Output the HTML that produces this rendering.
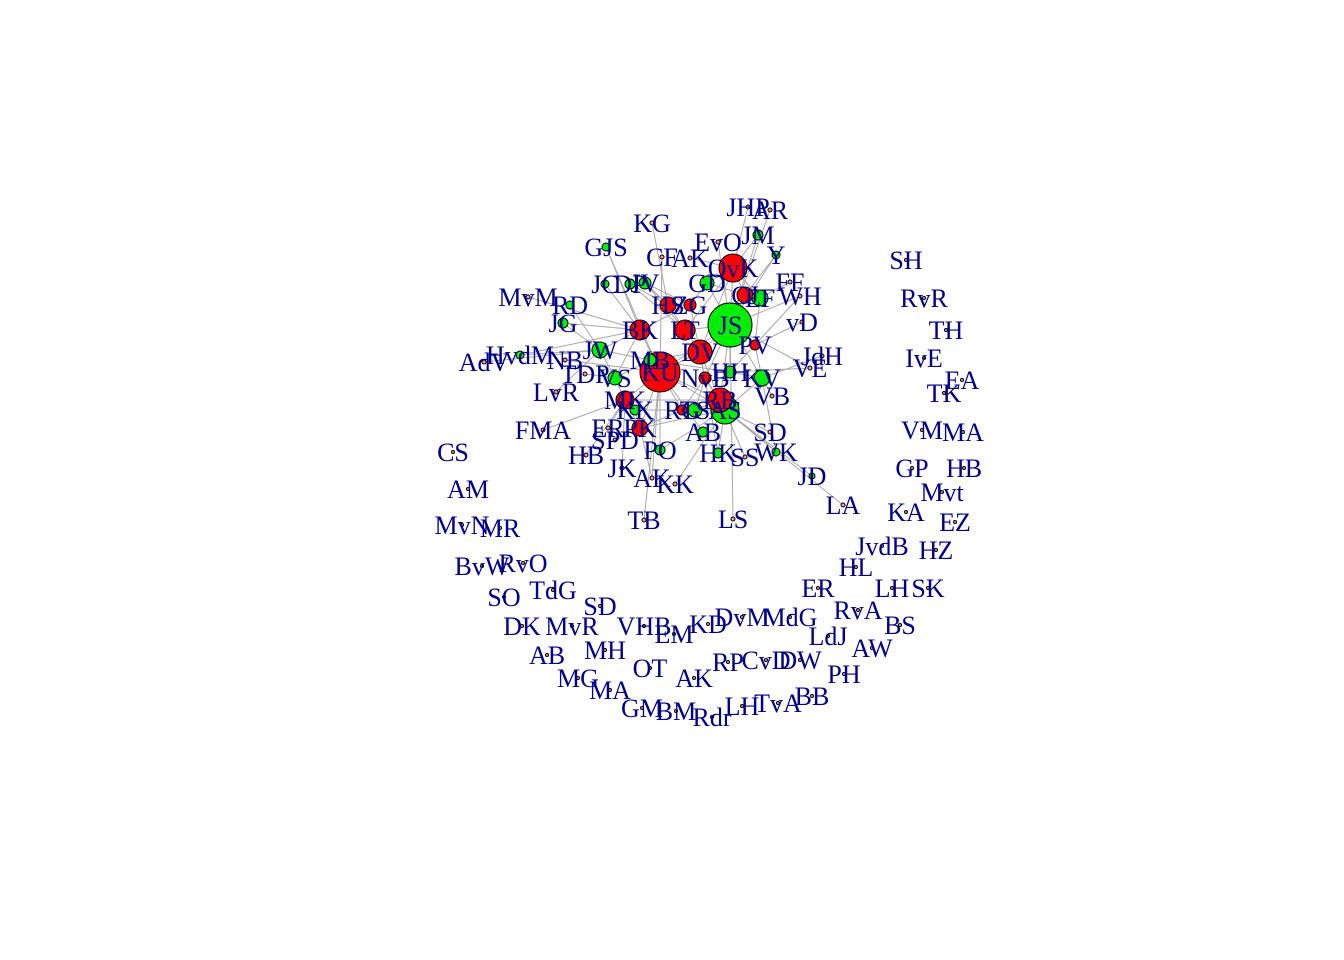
<!DOCTYPE html>
<html><head><meta charset="utf-8">
<style>
html,body{margin:0;padding:0;background:#fff;}
svg{display:block;}
text{font-family:"Liberation Serif",serif;font-size:26px;fill:#00008b;}
</style></head>
<body>
<svg id="chart" width="1344" height="960"></svg>
<script>
// layout coordinates (units relative to plot centre)
const nodeLabels=["KU","JS","OvK","AS","DV","RB","LT","BK","HS","MK","JW","VS","PK","CJ","EF","KV","GD","TS","MB","ZG","NvB","HH","PV","JV","RG","KK",
"GJS","CF","AK","EvO","JM","Y","FF","WH","vD","JdH","VE","VB","SD","WK","SS","HK","AB","KK","AK","JK","HB","PO","SPD","ER","LvR","TDP","NB","HvdM","JG","RD","JC","DP","KG","JHP","AR","MvM","AdV","FMA","TB","LS","JD","LA",
"SH","RvR","TH","IvE","EA","TK","VM","MA","GP","HB","Mvt","KA","EZ","JvdB","HZ","HL","LH","SK","ER","RvA","BS","LdJ","AW","PH","BB","TvA","LH","Rdr","CvD","DW","RP","AK","OT","BM","GM","MA","MG","MH","AB","EM","KD","DvM","MdG","VHB","MvR","DK","SD","TdG","SO","BvW","RvO","MvN","MR","AM","CS"];
const nodeX=[-4,3,3.3,2.5,0,2,-1.5,-6,-3.2,-7.5,-10,-8.5,-6,4.5,6,6.2,0.7,-0.5,-5,-1,0.5,3,5.5,-5.5,-1.8,-6.5,
-9.4,-3.8,-1,1.8,5.8,7.6,9,10,10.2,12.2,11,7.2,7,7.6,4.5,1.8,0.3,-2.5,-4.8,-7.8,-11.4,-4,-8.5,-9.2,-14.4,-11.5,-13.5,-18,-13.7,-13,-9.5,-7,-4.8,4.8,7,-17.2,-21.6,-15.7,-5.6,3.3,11.2,14.3,
20.6,22.4,24.6,22.4,26.2,24.4,22.2,26.3,21.2,26.4,24.2,20.6,25.5,18.2,23.6,15.6,19.2,22.8,11.8,15.8,20,12.8,17.2,14.4,11.2,7.8,4.2,1.2,6.6,10,2.8,-0.6,-5,-2.4,-5.8,-9,-12.2,-9.5,-15.3,-2.6,0.8,4.2,9,-5.6,-12.8,-17.8,-10,-14.7,-19.6,-21.8,-17.7,-23.8,-20,-23.2,-24.7];
const nodeY=[-8.8,-13.5,-19.2,-5,-10.8,-6,-13,-13,-15.5,-6,-11,-8.2,-3.2,-16.5,-16.2,-8.2,-17.7,-5,-10,-15.5,-8.2,-8.8,-11.5,-17.7,-5,-5,
-21.3,-20.3,-20.2,-21.8,-22.5,-20.5,-17.8,-16.4,-13.8,-10.4,-9.2,-6.4,-2.8,-0.8,-0.3,-0.7,-2.8,2.4,1.8,0.8,-0.5,-1,-2,-3.2,-6.8,-8.6,-10,-10.5,-13.7,-15.5,-17.6,-17.6,-23.7,-25.3,-25,-16.3,-9.8,-3,6,5.9,1.6,4.5,
-20,-16.2,-13,-10.2,-8,-6.7,-3,-2.8,0.8,0.8,3.2,5.2,6.2,8.6,9,10.7,12.8,12.8,12.8,15,16.5,17.6,18.8,21.4,23.6,24.3,24.6,25.7,20,20,20.2,21.8,20.8,25.1,24.8,23,21.8,19,19.5,17.4,16.4,15.7,15.7,16.6,16.6,16.6,14.6,13,13.7,10.6,10.3,6.5,6.8,2.9,-0.8];
const nodeGroup=["r","g","r","g","r","r","r","r","r","r","g","g","r","r","g","g","g","g","g","r","r","g","r","g","r","g",
"g","n","n","n","g","g","n","n","n","n","n","n","n","g","n","g","g","n","n","n","n","g","n","n","n","n","n","g","g","g","g","g","n","n","n","n","n","n","n","n","g","n"];
const nodeSize=[20,22,14,14,12,12,10,10,8,9,8,7,8,8,8,8,7,7,6,6,6,6,5,6,5,5,
4,2,2,2,5,4,2,2,2,2,2,2,2,4,2,5,5,2,2,2,2,5,2,2,2,2,2,4,5,4,4,5,2,2,2,2,2,2,2,2,3,2];
const edgeFrom=[0,0,0,0,0,0,0,1,1,1,1,1,1,1,2,2,2,2,3,3,3,3,4,4,4,5,5,6,6,7,7,8,9,10,11,12,13,14,15,16,17,18,19,20,21,22,23,24,25,
26,27,28,29,30,31,32,33,34,35,36,37,38,39,40,41,42,43,44,45,46,47,48,49,50,51,52,53,54,55,56,57,58,59,60,61,62,63,64,65,66,67,30,31,39,41,44,47,54,57,26,53,
0,0,1,1,2,3,4,5,7,9,10,12,13,16,18,20,23,24,33,36];
const edgeTo=[1,3,4,7,9,12,18,2,4,5,6,13,15,21,4,6,13,16,5,15,17,20,5,6,19,17,21,8,23,10,11,23,12,11,9,25,14,22,21,19,24,11,8,5,22,15,8,20,9,
7,0,2,1,2,1,14,1,22,15,1,15,3,3,5,3,0,3,0,9,9,0,12,9,10,11,0,7,7,10,7,8,8,2,1,7,10,9,0,1,3,3,1,13,15,4,12,3,10,6,0,10,
5,24,16,20,14,12,18,9,19,25,18,24,16,19,21,17,19,25,22,21];
const svg=document.getElementById('chart');
const NS='http://www.w3.org/2000/svg';
const sx=v=>700+v*10, sy=v=>460+v*10;
for(let i=0;i<edgeFrom.length;i++){
 const a=edgeFrom[i],b=edgeTo[i];
 const l=document.createElementNS(NS,'line');
 l.setAttribute('x1',sx(nodeX[a]));l.setAttribute('y1',sy(nodeY[a]));
 l.setAttribute('x2',sx(nodeX[b]));l.setAttribute('y2',sy(nodeY[b]));
 l.setAttribute('stroke','#a8a8a8');l.setAttribute('stroke-width','1');
 
 
 svg.appendChild(l);
}
for(let i=0;i<nodeLabels.length;i++){
 const c=document.createElementNS(NS,'circle');
 const g=nodeGroup[i]||'n';
 c.setAttribute('cx',sx(nodeX[i]));c.setAttribute('cy',sy(nodeY[i]));
 c.setAttribute('r',nodeSize[i]||1.5);
 c.setAttribute('fill',g==='r'?'#ff0000':g==='g'?'#00ee00':'#ff9999');
 c.setAttribute('stroke','#000');c.setAttribute('stroke-width','1');
 
 
 svg.appendChild(c);
}
for(let i=0;i<nodeLabels.length;i++){
 const t=document.createElementNS(NS,'text');
 t.setAttribute('x',sx(nodeX[i]));t.setAttribute('y',sy(nodeY[i])+9);
 t.setAttribute('text-anchor','middle');
 t.textContent=nodeLabels[i];
 
 
 svg.appendChild(t);
}
</script>
</body></html>
